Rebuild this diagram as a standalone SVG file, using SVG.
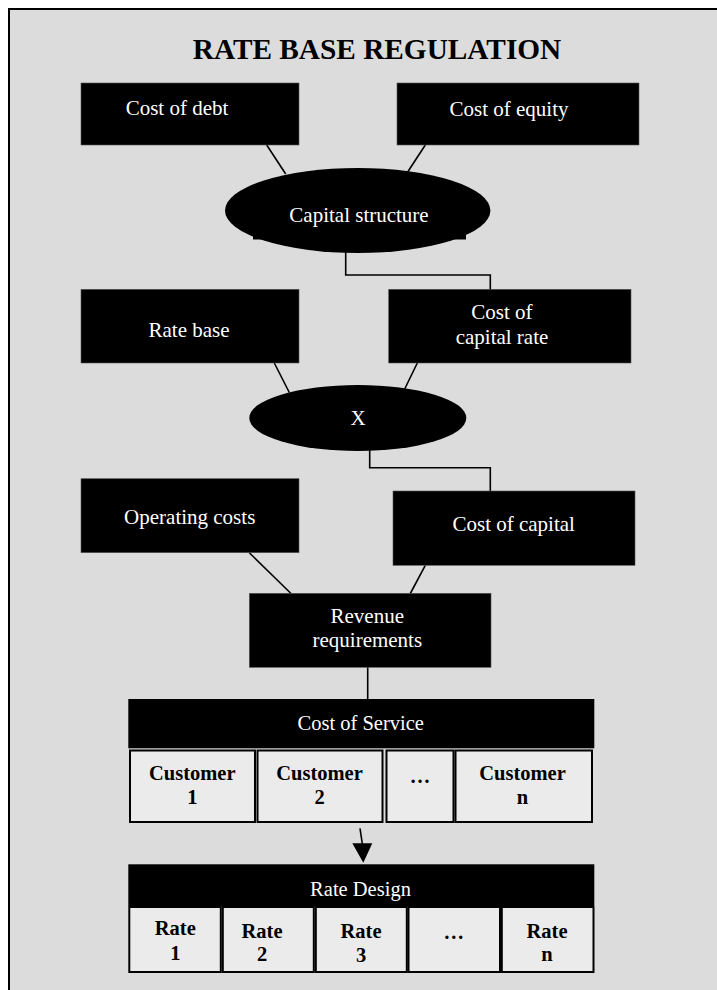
<svg xmlns="http://www.w3.org/2000/svg" width="717" height="990" viewBox="0 0 717 990">
<style>
.box{fill:#000;stroke:#555;stroke-width:0.6}
.wt{fill:#fff;font-family:"Liberation Serif","Times New Roman",serif;font-size:21px;text-anchor:middle}
.hd{fill:#fff;font-family:"Liberation Serif","Times New Roman",serif;font-size:20.5px;text-anchor:middle}
.cell{fill:#ebebeb;stroke:#000;stroke-width:2}
.ct{fill:#000;font-family:"Liberation Serif","Times New Roman",serif;font-size:20.5px;font-weight:bold;text-anchor:middle}
.ln{fill:none;stroke:#000;stroke-width:1.6}
</style>
<rect x="9" y="9" width="720" height="1000" fill="#dcdcdc" stroke="#000" stroke-width="2"/>
<text x="377" y="59" font-family="Liberation Serif, Times New Roman, serif" font-size="29.3" font-weight="bold" text-anchor="middle" fill="#000">RATE BASE REGULATION</text>
<g id="connectors">
<line class="ln" x1="266.7" y1="145" x2="285.7" y2="174"/>
<line class="ln" x1="425.3" y1="145" x2="408" y2="171.5"/>
<polyline class="ln" points="345.7,250 345.7,275 490.3,275 490.3,290"/>
<line class="ln" x1="274.3" y1="363" x2="289.3" y2="392.5"/>
<line class="ln" x1="417.3" y1="363" x2="404.7" y2="389"/>
<polyline class="ln" points="369.7,448 369.7,467.7 490.3,467.7 490.3,491"/>
<line class="ln" x1="249.3" y1="552.7" x2="291" y2="593.5"/>
<line class="ln" x1="425.3" y1="565.3" x2="410.3" y2="593.5"/>
<line class="ln" x1="367.7" y1="667" x2="367.7" y2="699"/>
<line class="ln" x1="360" y1="828.3" x2="362.5" y2="845"/>
<polygon points="352.3,843.3 372.3,843.3 363.3,862.7" fill="#000"/>
</g>
<g id="cost-of-debt">
<rect class="box" x="81" y="83" width="218" height="62"/>
<text class="wt" x="177" y="114.5">Cost of debt</text>
</g>
<g id="cost-of-equity">
<rect class="box" x="397" y="83" width="242" height="62"/>
<text class="wt" x="509" y="115.5">Cost of equity</text>
</g>
<g id="capital-structure">
<rect x="253" y="200" width="213" height="39.5" fill="#000"/>
<ellipse cx="357.7" cy="210.5" rx="132.7" ry="42.5" fill="#000"/>
<text class="wt" x="359" y="222">Capital structure</text>
</g>
<g id="rate-base">
<rect class="box" x="81" y="289.3" width="218" height="73.7"/>
<text class="wt" x="189" y="337">Rate base</text>
</g>
<g id="cost-of-capital-rate">
<rect class="box" x="388.7" y="289.3" width="242.3" height="73.7"/>
<text class="wt" x="502" y="319">Cost of</text>
<text class="wt" x="502" y="344">capital rate</text>
</g>
<g id="multiply">
<ellipse cx="357.8" cy="418" rx="108.5" ry="33" fill="#000"/>
<text class="wt" x="358" y="424.5">X</text>
</g>
<g id="operating-costs">
<rect class="box" x="81" y="478.7" width="218" height="74"/>
<text class="wt" x="189.7" y="524">Operating costs</text>
</g>
<g id="cost-of-capital">
<rect class="box" x="393" y="491" width="242" height="74.3"/>
<text class="wt" x="513.7" y="530.7">Cost of capital</text>
</g>
<g id="revenue-requirements">
<rect class="box" x="249.3" y="593.3" width="241.7" height="74"/>
<text class="wt" x="367.3" y="622.7">Revenue</text>
<text class="wt" x="367.3" y="647">requirements</text>
</g>
<g id="cost-of-service">
<rect x="128.3" y="699" width="466" height="49.3" fill="#000"/>
<text class="hd" x="360.7" y="730">Cost of Service</text>
<rect class="cell" x="130" y="750.5" width="125" height="71.5"/>
<rect class="cell" x="257.5" y="750.5" width="125" height="71.5"/>
<rect class="cell" x="386.5" y="750.5" width="67" height="71.5"/>
<rect class="cell" x="455.5" y="750.5" width="136.5" height="71.5"/>
<text class="ct" x="192.3" y="780">Customer</text>
<text class="ct" x="192.3" y="804.3">1</text>
<text class="ct" x="319.5" y="780">Customer</text>
<text class="ct" x="319.5" y="804.3">2</text>
<text class="ct" x="420" y="783">…</text>
<text class="ct" x="522.5" y="780">Customer</text>
<text class="ct" x="522.5" y="804.3">n</text>
</g>
<g id="rate-design">
<rect x="128.3" y="864.3" width="466" height="41.7" fill="#000"/>
<text class="hd" x="360.5" y="896">Rate Design</text>
<rect class="cell" x="129.3" y="907" width="91.5" height="65"/>
<rect class="cell" x="222.8" y="907" width="91" height="65"/>
<rect class="cell" x="315.8" y="907" width="91" height="65"/>
<rect class="cell" x="408.5" y="907" width="91.5" height="65"/>
<rect class="cell" x="501.8" y="907" width="91.7" height="65"/>
<text class="ct" x="175.3" y="935">Rate</text>
<text class="ct" x="175.3" y="960">1</text>
<text class="ct" x="262" y="937.7">Rate</text>
<text class="ct" x="262" y="960.7">2</text>
<text class="ct" x="361" y="937.7">Rate</text>
<text class="ct" x="361" y="961.7">3</text>
<text class="ct" x="453.8" y="939">…</text>
<text class="ct" x="547" y="937.7">Rate</text>
<text class="ct" x="547" y="961">n</text>
</g>
</svg>
